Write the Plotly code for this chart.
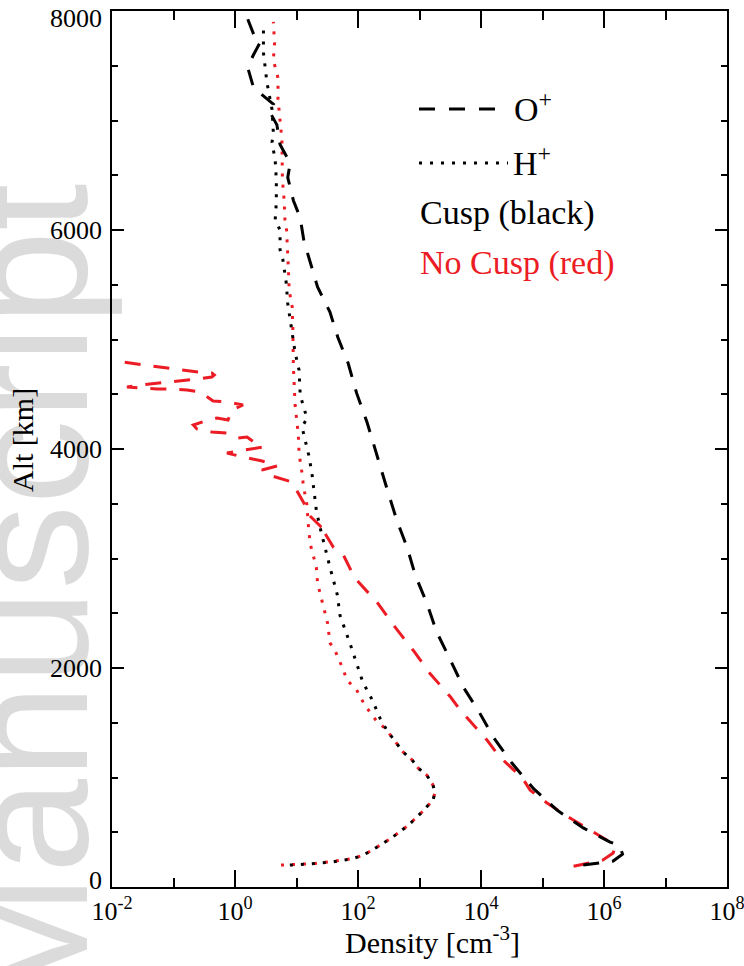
import plotly.graph_objects as go

# ---------------- data ----------------
# O+ , Cusp (black dashed)
alt_o_cusp = [200, 220, 237, 300, 380, 410, 540, 700, 900, 1130, 1370, 1590, 1830, 2070, 2330,
              2590, 2850, 3100, 3350, 3640, 3930, 4240, 4510, 4785, 5020, 5250, 5480, 5700,
              5900, 6110, 6270, 6480, 6610, 6780, 6960, 7100, 7150, 7300, 7490, 7600, 7720,
              7760, 7950]
den_o_cusp = [4.6e5, 7.8e5, 1.41e6, 2.0e6, 1.8e6, 1.26e6, 4.6e5, 1.74e5, 7.1e4, 3.2e4, 1.58e4,
              9.5e3, 5.1e3, 3.2e3, 1.9e3, 1.32e3, 851, 631, 427, 295, 204, 141, 95, 69, 47, 35,
              22, 16.6, 13.2, 11.5, 8.9, 7.2, 7.9, 5.4, 4.8, 3.5, 4.2, 2.0, 1.6, 2.0, 2.6, 2.1,
              1.55]

# O+ , No Cusp (red dashed)
alt_o_nocusp = [190, 215, 245, 310, 350, 410, 630, 770, 885, 995, 1100, 1190, 1340, 1525, 1615,
                1735, 1950, 2160, 2375, 2600, 2820, 3030, 3100, 3230, 3260, 3290, 3415, 3489,
                3626, 3699, 3753, 3808, 3845, 3890, 3927, 3963, 3991, 4018, 4055, 4110, 4100,
                4146, 4155, 4183, 4219, 4256, 4283, 4265, 4356, 4402, 4429, 4438, 4521, 4539,
                4548, 4548, 4557, 4566, 4584, 4612, 4621, 4639, 4658, 4676, 4694, 4703, 4721,
                4740, 4758, 4776, 4795, 4804]
den_o_nocusp = [3.2e5, 5.6e5, 9.5e5, 1.41e6, 1.48e6, 1.26e6, 2.8e5, 1.17e5, 6.3e4, 4.7e4, 2.95e4,
                2.0e4, 1.26e4, 6.3e3, 4.6e3, 3.2e3, 1.48e3, 794, 398, 204, 89, 58, 40, 29, 33,
                25, 14.8, 13.7, 10.2, 8.45, 4.0, 2.75, 4.82, 2.75, 1.35, 0.74, 1.46, 2.85, 2.11,
                1.57, 1.12, 0.74, 0.42, 0.24, 0.21, 0.325, 0.51, 0.77, 0.89, 1.35, 0.74, 0.44,
                0.27, 0.166, 0.088, 0.054, 0.0285, 0.0175, 0.0285, 0.081, 0.137, 0.24, 0.42,
                0.46, 0.42, 0.25, 0.137, 0.078, 0.045, 0.0255, 0.0146, 0.0064]

# H+ , Cusp (black dotted)
alt_h_cusp = [200, 210, 230, 260, 290, 340, 450, 565, 685, 795, 860, 930, 1020, 1085, 1160, 1235,
              1370, 1460, 1540, 1710, 1870, 2045, 2225, 2480, 2670, 2920, 3100, 3290, 3440, 3630,
              3780, 3945, 4200, 4280, 4490, 4720, 4880, 5060, 5200, 5330, 5520, 5730, 5820, 6000,
              6090, 6250, 6460, 6640, 6800, 6890, 7100, 7350, 7620, 7890]
den_h_cusp = [7.8, 15.8, 39, 83, 120, 174, 355, 661, 1100, 1660, 1780, 1660, 1320, 955, 759, 537,
              355, 275, 229, 170, 120, 95, 74, 51, 46, 35, 29, 24, 21, 19, 17.8, 15.8, 12.3, 14.8,
              11.5, 11.0, 9.5, 8.5, 7.8, 7.2, 6.8, 6.0, 5.4, 5.4, 4.5, 4.7, 4.7, 4.5, 4.0, 4.2,
              4.0, 3.3, 2.9, 2.9]

# H+ , No Cusp (red dotted)
alt_h_nocusp = [200, 205, 215, 235, 260, 290, 340, 450, 565, 685, 795, 860, 930, 1020, 1085, 1160,
                1235, 1370, 1450, 1510, 1590, 1660, 1800, 1890, 1980, 2150, 2230, 2410, 2575, 2685,
                2775, 2920, 3030, 3140, 3320, 3490, 3580, 3670, 3780, 3960, 4130, 4400, 4750, 4930,
                5120, 5300, 5450, 5630, 6000, 6090, 6270, 6460, 6640, 6820, 7000, 7200, 7390, 7550,
                7710, 7900]
den_h_nocusp = [5.6, 10, 20, 40, 83, 120, 174, 355, 661, 1100, 1660, 1780, 1660, 1320, 955, 759,
                537, 355, 275, 204, 158, 129, 95, 66, 58, 43, 35, 32, 27, 24, 22, 21, 18.6, 16.6,
                15.5, 14.8, 13.8, 12.9, 12.3, 11.0, 10.7, 9.5, 8.9, 8.9, 8.7, 8.5, 7.6, 7.4, 6.9,
                6.5, 6.3, 5.9, 5.8, 5.8, 5.4, 5.0, 5.0, 4.2, 4.4, 4.2]

x_major_vals = [1e-2, 1e0, 1e2, 1e4, 1e6, 1e8]
x_major_text = ["10<sup>-2</sup>", "10<sup>0</sup>", "10<sup>2</sup>", "10<sup>4</sup>",
                "10<sup>6</sup>", "10<sup>8</sup>"]
x_minor_vals = [1e-1, 1e1, 1e3, 1e5, 1e7]
y_major_vals = [0, 2000, 4000, 6000, 8000]
y_major_text = ["0", "2000", "4000", "6000", "8000"]

legend_lines = ["O<sup>+</sup>", "H<sup>+</sup>"]
legend_notes = ["Cusp (black)", "No Cusp (red)"]

# ---------------- styling ----------------
RED = "#ec1c24"
BLACK = "#000000"
SERIF = "Liberation Serif"
DASH = "16px,13px"
DOT = "3px,8px"

W, H = 744, 966
L, R, T, B = 112, 17, 11, 79
PW, PH = W - L - R, H - T - B


def px(x):
    return (x - L) / PW


def py(y):
    return (H - B - y) / PH


fig = go.Figure()
fig.add_trace(go.Scatter(x=den_o_nocusp, y=alt_o_nocusp, mode="lines",
                         line=dict(color=RED, width=3, dash=DASH), showlegend=False))
fig.add_trace(go.Scatter(x=den_h_nocusp, y=alt_h_nocusp, mode="lines",
                         line=dict(color=RED, width=3, dash=DOT), showlegend=False))
fig.add_trace(go.Scatter(x=den_o_cusp, y=alt_o_cusp, mode="lines",
                         line=dict(color=BLACK, width=3, dash=DASH), showlegend=False))
fig.add_trace(go.Scatter(x=den_h_cusp, y=alt_h_cusp, mode="lines",
                         line=dict(color=BLACK, width=3, dash=DOT), showlegend=False))

axis_common = dict(showline=True, linecolor="black", linewidth=2, mirror="allticks",
                   ticks="inside", tickcolor="black", tickwidth=1.5, showgrid=False,
                   zeroline=False, ticklabeloverflow="allow", automargin=False,
                   tickfont=dict(family=SERIF, size=26, color="black"))

fig.update_xaxes(type="log", range=[-2, 8], tickmode="array", tickvals=x_major_vals,
                 ticktext=x_major_text, ticklen=17,
                 minor=dict(tickmode="array", tickvals=x_minor_vals, ticklen=9,
                            tickwidth=1.5, tickcolor="black", ticks="inside"),
                 **axis_common)
fig.update_yaxes(range=[0, 8000], tickmode="array", tickvals=y_major_vals,
                 ticktext=y_major_text, ticklen=12, showticklabels=False,
                 minor=dict(dtick=500, ticklen=6, tickwidth=1.5, tickcolor="black",
                            ticks="inside"),
                 **axis_common)

annotations = [
    # watermark
    dict(text="Manuscript", xref="paper", yref="paper", x=px(28), y=py(600),
         showarrow=False, textangle=-90, xanchor="center", yanchor="middle",
         font=dict(family="Liberation Sans", size=170, color="rgba(0,0,0,0.14)")),
    # axis titles
    dict(text="Alt [km]", xref="paper", yref="paper", x=px(23), y=py(440),
         showarrow=False, textangle=-90, xanchor="center", yanchor="middle",
         font=dict(family=SERIF, size=30, color="black")),
    dict(text="Density [cm<sup>-3</sup>]", xref="paper", yref="paper", x=px(432), y=py(940),
         showarrow=False, xanchor="center", yanchor="middle",
         font=dict(family=SERIF, size=30, color="black")),
    # legend
    dict(text=legend_lines[0], xref="paper", yref="paper", x=px(512), y=py(107),
         showarrow=False, xanchor="left", yanchor="middle",
         font=dict(family=SERIF, size=34, color="black")),
    dict(text=legend_lines[1], xref="paper", yref="paper", x=px(511), y=py(161),
         showarrow=False, xanchor="left", yanchor="middle",
         font=dict(family=SERIF, size=34, color="black")),
    dict(text=legend_notes[0], xref="paper", yref="paper", x=px(418), y=py(213),
         showarrow=False, xanchor="left", yanchor="middle",
         font=dict(family=SERIF, size=34, color="black")),
    dict(text=legend_notes[1], xref="paper", yref="paper", x=px(418), y=py(263),
         showarrow=False, xanchor="left", yanchor="middle",
         font=dict(family=SERIF, size=34, color=RED)),
]

# y tick labels (end labels nudged inward as in the reference)
n_y = len(y_major_vals)
for i, (v, t) in enumerate(zip(y_major_vals, y_major_text)):
    shift = 7 if i == 0 else (-7 if i == n_y - 1 else 0)
    annotations.append(dict(text=t, xref="paper", yref="y", x=px(104), y=v, yshift=shift,
                            showarrow=False, xanchor="right", yanchor="middle",
                            font=dict(family=SERIF, size=26, color="black")))

shapes = [
    dict(type="line", xref="paper", yref="paper", x0=px(419), x1=px(496), y0=py(109), y1=py(109),
         line=dict(color="black", width=3, dash="16px,14px")),
    dict(type="line", xref="paper", yref="paper", x0=px(419), x1=px(508), y0=py(163), y1=py(163),
         line=dict(color="black", width=3, dash="3px,8px")),
]

fig.update_layout(width=W, height=H, margin=dict(l=L, r=R, t=T, b=B, pad=0, autoexpand=False),
                  plot_bgcolor="white", paper_bgcolor="white",
                  annotations=annotations, shapes=shapes, showlegend=False)

fig.write_html("out.html")
